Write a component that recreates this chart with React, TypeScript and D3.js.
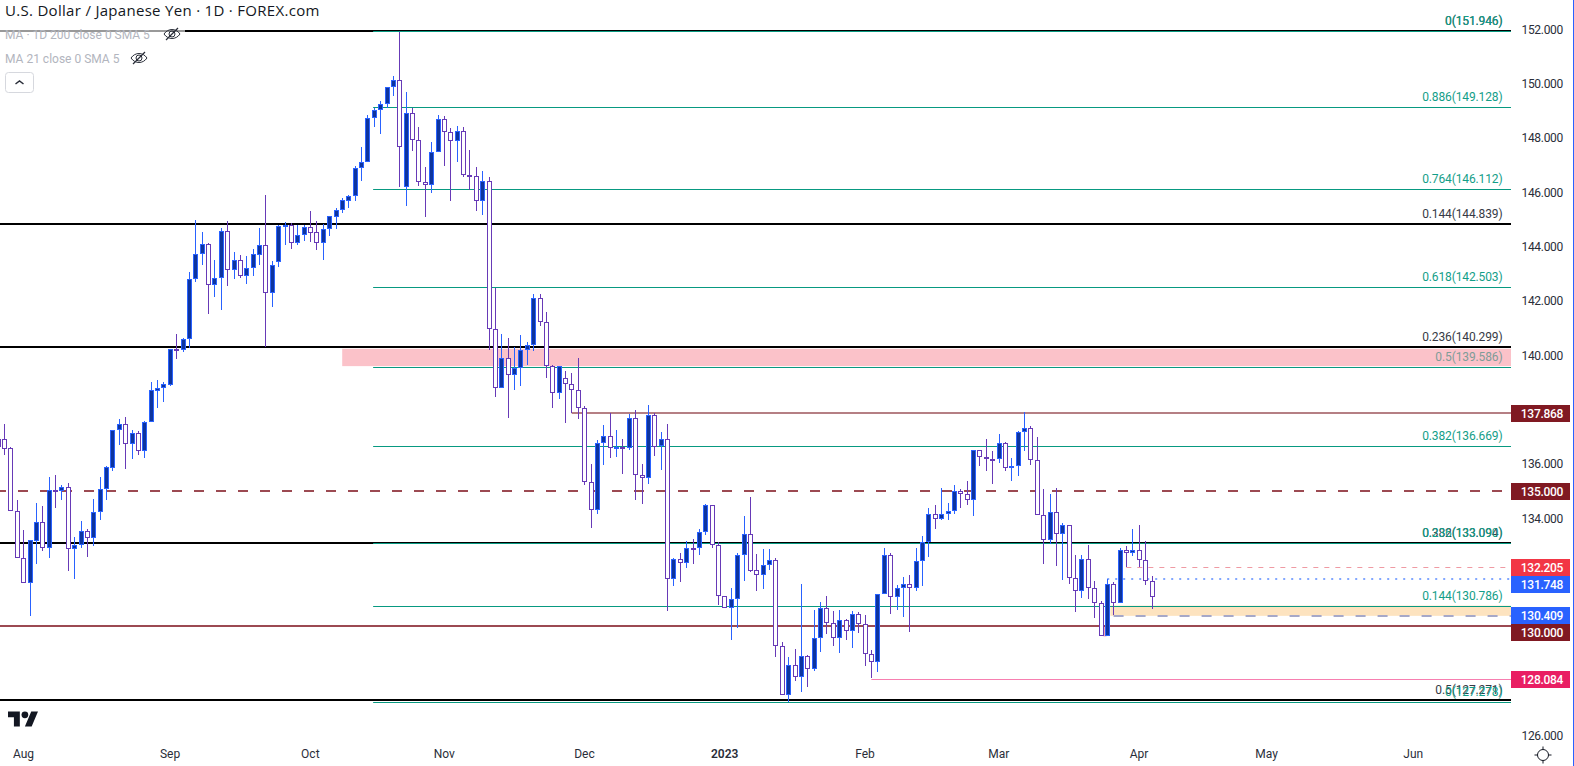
import React from "react";
import * as d3 from "d3";

const opens = [136.91,136.91,136.58,134.26,132.53,131.61,133.18,133.85,132.92,135.03,
135.02,135.14,132.88,133.01,133.52,133.29,134.22,135.07,135.86,137.24,
137.46,136.75,137.13,136.49,137.53,138.70,138.78,138.92,140.22,140.18,
140.59,142.80,143.72,144.08,142.58,142.83,144.56,143.13,143.50,142.91,
143.20,143.70,144.05,142.30,143.45,144.75,144.78,144.12,144.41,144.71,
144.53,144.12,144.64,145.10,145.34,145.69,145.85,146.88,147.10,148.72,
149.02,149.24,149.86,150.12,146.18,148.90,147.91,146.37,146.26,147.47,
148.68,148.21,147.87,148.24,146.62,146.59,145.67,146.40,140.95,138.78,
139.89,139.26,139.52,140.18,140.37,142.10,141.21,139.59,138.60,139.15,
138.93,138.71,138.05,135.32,134.29,136.76,137.02,136.57,136.64,136.57,
137.68,135.58,135.47,137.79,136.65,136.91,131.75,132.49,132.34,132.89,
132.89,133.48,134.48,133.00,131.13,130.69,131.02,132.64,133.41,132.09,
131.90,132.27,132.45,129.29,127.48,128.59,128.15,128.92,128.44,129.58,
130.69,130.16,129.58,130.25,129.84,130.47,130.10,128.99,128.70,131.20,
132.64,131.09,131.42,131.57,131.42,132.42,133.12,134.15,133.96,134.14,
134.25,134.99,134.91,134.69,136.50,136.24,136.20,136.17,136.76,135.84,
135.91,137.16,137.34,136.13,134.11,133.19,134.22,133.41,133.74,131.82,
131.31,132.49,131.42,130.87,129.65,131.57,130.90,132.85,132.71,132.85,
132.45,131.71];

const closes = [136.61,136.56,134.25,132.53,131.61,133.19,133.85,132.92,135.03,135.02,
135.14,132.88,133.01,133.52,133.29,134.22,135.07,135.88,137.24,137.46,
136.75,137.13,136.49,137.53,138.71,138.78,138.93,140.22,140.17,140.59,
142.80,143.72,144.08,142.58,142.83,144.56,143.13,143.50,142.91,143.20,
143.72,144.05,142.30,143.31,144.75,144.81,144.12,144.41,144.71,144.51,
144.12,144.64,145.11,145.34,145.70,145.85,146.88,147.10,148.72,149.02,
149.24,149.86,150.12,147.65,148.90,147.91,146.37,146.26,147.47,148.68,
148.21,147.87,148.24,146.62,146.59,145.67,146.40,140.96,138.78,139.89,
139.26,139.52,140.18,140.37,142.10,141.21,139.59,138.60,139.59,138.93,
138.71,138.05,135.32,134.29,136.76,137.02,136.57,136.64,136.57,137.68,
135.58,135.47,137.79,136.64,136.91,131.75,132.49,132.34,132.89,132.88,
133.48,134.48,133.00,131.13,130.69,131.02,132.64,133.41,132.07,131.90,
132.27,132.45,129.29,127.48,128.59,128.15,128.92,128.44,129.58,130.69,
130.16,129.58,130.25,129.84,130.47,130.10,128.99,128.70,131.20,132.64,
131.09,131.42,131.57,131.42,132.42,133.12,134.15,133.96,134.15,134.25,
134.99,134.91,134.69,136.50,136.24,136.20,136.17,136.76,135.84,135.91,
137.16,137.34,136.13,134.11,133.19,134.22,133.41,133.74,131.82,131.31,
132.49,131.42,130.87,129.65,131.57,130.90,132.85,132.71,132.85,132.45,
131.71,131.09];

const highs = [137.01,137.47,136.63,134.67,133.57,133.19,134.55,134.45,135.52,135.59,
135.23,135.30,133.31,133.90,133.61,134.71,135.52,135.91,137.24,137.66,
137.73,137.25,137.21,137.58,139.01,139.09,139.01,140.22,140.78,140.62,
143.05,144.98,144.53,144.13,143.51,144.69,144.94,143.79,143.68,143.66,
143.91,144.68,145.90,143.46,144.80,144.91,144.86,144.81,144.80,145.31,
144.94,144.83,145.11,145.43,145.79,145.90,146.97,147.67,148.84,149.09,
149.36,149.86,150.28,151.91,149.69,149.09,148.40,146.93,147.85,148.84,
148.79,148.37,148.44,148.40,147.56,146.93,146.78,146.56,142.48,140.77,
140.62,140.29,140.73,140.48,142.25,142.25,141.58,139.64,139.59,139.41,
139.33,139.89,138.12,135.99,136.87,137.43,137.86,137.25,136.92,137.83,
137.97,135.99,138.16,137.86,137.16,137.46,132.53,132.71,133.15,133.23,
133.59,134.53,134.48,133.11,131.13,131.42,132.71,134.07,134.77,132.67,
132.86,132.86,132.53,129.44,128.88,129.19,131.57,128.97,130.61,130.91,
131.13,130.58,130.61,130.28,130.58,130.54,130.43,129.14,131.20,132.90,
132.71,131.53,131.83,131.90,132.90,133.34,134.37,134.48,135.10,134.56,
135.22,135.07,135.37,136.50,136.53,136.91,136.47,137.10,136.79,136.22,
137.21,137.90,137.38,136.99,135.07,134.89,135.11,133.81,133.77,132.65,
132.65,133.01,131.68,130.94,131.75,131.65,132.89,132.98,133.59,133.75,
133.15,131.86];

const lows = [136.51,136.33,134.25,132.53,131.61,130.41,132.32,132.80,132.54,134.38,
134.67,132.06,131.77,132.91,132.58,132.99,133.94,134.67,135.74,136.70,
135.82,136.18,136.33,136.22,137.53,138.06,138.28,138.87,139.86,140.12,
140.27,142.70,143.32,141.52,142.15,141.67,142.55,142.81,142.85,142.62,
142.92,143.32,140.32,141.79,143.25,144.06,143.91,144.06,144.21,144.17,
143.88,143.51,144.39,144.65,145.24,145.42,145.68,146.41,147.10,148.41,
148.14,149.09,149.54,146.19,145.49,147.53,146.23,145.09,145.99,147.47,
146.97,145.68,147.11,146.56,146.07,145.31,145.16,140.19,138.48,138.78,
137.70,138.72,138.87,139.64,140.17,141.08,139.16,138.06,138.40,137.51,
137.88,137.65,135.24,133.64,134.16,135.96,136.22,136.26,135.63,136.51,
134.67,134.53,135.26,136.29,135.78,130.59,131.51,131.66,132.17,132.32,
132.65,133.38,132.91,130.80,130.69,129.52,129.96,131.69,132.02,131.32,
131.40,132.10,128.90,127.48,127.23,128.01,127.61,127.79,128.38,129.08,
129.74,129.30,129.04,129.52,129.23,129.78,128.56,128.11,128.34,131.20,
130.48,130.63,130.37,129.82,131.32,131.51,132.58,133.61,133.94,133.93,
134.15,134.38,134.49,134.08,135.92,135.74,135.26,136.03,135.74,135.37,
135.55,136.47,135.96,134.11,132.31,133.07,132.24,131.73,131.58,130.55,
131.06,131.03,130.33,129.65,129.65,130.44,130.90,132.19,132.61,132.19,
131.54,130.66];

const priceTicks = [152, 150, 148, 146, 144, 142, 140, 136, 134, 126];
const timeTickBars = [4, 27, 49, 70, 92, 114, 136, 157, 179, 199, 222];
const timeTickLabels = ["Aug", "Sep", "Oct", "Nov", "Dec", "2023", "Feb", "Mar", "Apr", "May", "Jun"];

const blackLevels = [151.946, 144.839, 140.299, 133.094, 127.3];
const blackLabels = ["0(151.946)", "0.144(144.839)", "0.236(140.299)", "0.382(133.094)", "0.5(127.271)"];
const tealLevels = [151.946, 149.128, 146.112, 142.503, 139.586, 136.669, 133.094, 130.786, 127.25];
const tealLabels = ["0(151.946)", "0.886(149.128)", "0.764(146.112)", "0.618(142.503)", "0.5(139.586)", "0.382(136.669)", "0.236(133.090)", "0.144(130.786)", "0(127.278)"];

const tagPrices = [137.868, 135.0, 132.205, 131.748, 130.409, 130.0, 128.084];
const tagColors = ["#801922", "#801922", "#f23645", "#2962ff", "#2962ff", "#801922", "#e91e63"];

const W = 1574, H = 766;
const PLOT_R = 1511;
const x = d3.scaleLinear().domain([0, 1]).range([-2.04, 4.335]);
const y = d3.scaleLinear().domain([133.094, 151.946]).range([542.9, 30.7]);
const FONT = "Roboto, 'Noto Sans', sans-serif";
const TEAL = "#089981";

function hline(price: number, x0: number, h: number, color: string, key: string) {
  return <rect key={key} x={x0} y={Math.round(y(price)) - Math.floor(h / 2)} width={PLOT_R - x0} height={h} fill={color} />;
}

function dashLine(price: number, x0: number, w: number, color: string, dash: string, offset = 0) {
  const yy = Math.round(y(price)) + (w % 2 ? 0.5 : 0);
  return <line x1={x0} x2={PLOT_R} y1={yy} y2={yy} stroke={color} strokeWidth={w} strokeDasharray={dash} strokeDashoffset={offset} />;
}

function Candles() {
  return (
    <g>
      {opens.map((o, i) => {
        const c = closes[i];
        const up = c > o;
        const cx = Math.round(x(i) - 0.3);
        const top = Math.round(y(Math.max(o, c)));
        const bot = Math.round(y(Math.min(o, c)));
        const hi = Math.round(y(highs[i]));
        const lo = Math.round(y(lows[i]));
        const border = up ? "#2962ff" : "#673ab7";
        return (
          <g key={i}>
            <rect x={cx} y={hi} width={1} height={Math.max(lo - hi, 1)} fill={border} />
            <rect x={cx - 1.5} y={top + 0.5} width={4} height={Math.max(bot - top - 1, 1)} fill={up ? "#0d349e" : "#ffffff"} stroke={border} strokeWidth={1} />
          </g>
        );
      })}
    </g>
  );
}

function PriceTags() {
  let prevBottom = -Infinity;
  const tagH = 17;
  return (
    <g>
      {tagPrices.map((p, i) => {
        const ideal = y(p) - tagH / 2;
        const t = Math.max(Math.round(ideal), prevBottom);
        prevBottom = t + tagH;
        return (
          <g key={p}>
            <rect x={PLOT_R} y={t} width={59} height={tagH} fill={tagColors[i]} />
            <text x={1563} y={t + 13} textAnchor="end" fontFamily={FONT} fontSize={12} fontWeight={500} fill="#fff" style={{ letterSpacing: "-0.3px" }}>{p.toFixed(3)}</text>
          </g>
        );
      })}
    </g>
  );
}

function EyeOff({ cx, cy }: { cx: number; cy: number }) {
  return (
    <g transform={`translate(${cx},${cy})`} fill="none" stroke="#2a2e39" strokeWidth={1}>
      <path d="M-8 0C-4 -6 4 -6 8 0C4 6 -4 6 -8 0Z" />
      <circle r={3} />
      <path d="M-6 6L6 -6" strokeWidth={1.2} />
    </g>
  );
}

export default function App() {
  return (
    <svg width={W} height={H} viewBox={`0 0 ${W} ${H}`} style={{ position: "fixed", left: 0, top: 0, background: "#fff", display: "block" }}>
      <rect width={W} height={H} fill="#fff" />

      {/* zones */}
      <rect x={x(54)} y={y(140.24)} width={PLOT_R - x(54)} height={y(139.6) - y(140.24)} fill="#fbc2c9" />
      <rect x={x(174.5)} y={y(130.786)} width={PLOT_R - x(174.5)} height={y(130.409) - y(130.786)} fill="#fde3bf" />
      <rect x={x(173.4)} y={y(130)} width={x(173.9) - x(173.4)} height={y(129.65) - y(130)} fill="#f7a8b8" />

      {/* fib levels */}
      {blackLevels.map((p, i) => hline(p, 0, 2, "#000", `b${i}`))}
      {tealLevels.map((p, i) => hline(p, x(58.85), 1, TEAL, `t${i}`))}

      {/* horizontal levels */}
      {dashLine(135, 0, 2, "#9c4a52", "10 12", 4)}
      {hline(137.868, x(90), 2, "#b57f84", "l137")}
      {hline(130.03, 0, 2, "#9c4a52", "l130")}
      {hline(128.084, x(137), 1, "#f77fb0", "l128")}
      {dashLine(132.205, x(177), 1, "#ef9aa3", "5 6")}
      {dashLine(131.748, x(174), 2, "#82a7ff", "2 6")}
      {dashLine(130.409, x(175), 2, "#a6a8c8", "10 12")}

      <Candles />

      {/* fib labels */}
      {blackLevels.map((p, i) => (
        <text key={i} x={1502.5} y={Math.round(y(p)) - 6} textAnchor="end" fontFamily={FONT} fontSize={12} fill="#363a45" style={{ letterSpacing: "-0.12px" }}>{blackLabels[i]}</text>
      ))}
      {tealLevels.map((p, i) => (
        <text key={i} x={1502.5} y={Math.round(y(p)) - 6} textAnchor="end" fontFamily={FONT} fontSize={12} fill={p === 139.586 ? "#7f9c98" : "#139e88"} style={{ letterSpacing: "-0.12px" }}>{tealLabels[i]}</text>
      ))}

      {/* price axis */}
      {priceTicks.map((t) => (
        <text key={t} x={1563} y={y(t) + 4.5} textAnchor="end" fontFamily={FONT} fontSize={12} fill="#2a2e39" style={{ letterSpacing: "-0.3px" }}>{t.toFixed(3)}</text>
      ))}
      <PriceTags />
      <rect x={1573} y={0} width={1} height={H} fill="#2962ff" />

      {/* time axis */}
      {timeTickBars.map((b, i) => (
        <text key={b} x={x(b)} y={758} textAnchor="middle" fontFamily={FONT} fontSize={12} fontWeight={timeTickLabels[i] === "2023" ? 600 : 400} fill="#2a2e39">{timeTickLabels[i]}</text>
      ))}
      <g transform="translate(1543,755)" fill="none" stroke="#131722" strokeWidth={1}>
        <circle r={5.5} />
        <path d="M0 -8.5V-5.5M0 8.5V5.5M-8.5 0H-5.5M8.5 0H5.5" />
      </g>

      {/* legend */}
      <rect x={0} y={26} width={185} height={18} fill="#fff" fillOpacity={0.6} />
      <text x={5} y={16} fontFamily="'Open Sans', sans-serif" fontSize={15} fill="#131722" style={{ letterSpacing: "0.3px" }}>U.S. Dollar / Japanese Yen · 1D · FOREX.com</text>
      <text x={5} y={39} fontFamily={FONT} fontSize={12} fill="#b2b5be">MA · 1D 200 close 0 SMA 5</text>
      <text x={5} y={63} fontFamily={FONT} fontSize={12} fill="#b2b5be">MA 21 close 0 SMA 5</text>
      <EyeOff cx={172} cy={34} />
      <EyeOff cx={139} cy={58} />
      <rect x={5.5} y={72.5} width={28} height={20} rx={3} fill="#fff" stroke="#d6d8de" />
      <path d="M15.5 84L19.5 81L23.5 84" fill="none" stroke="#2a2e39" strokeWidth={1.5} />

      {/* logo */}
      <g transform="translate(8,708) scale(0.845)" fill="#131722">
        <path d="M14 22H7V11H0V4h14v18zM28 22h-8l7.5-18h8L28 22z" />
        <circle cx={20} cy={8} r={4} />
      </g>
    </svg>
  );
}
